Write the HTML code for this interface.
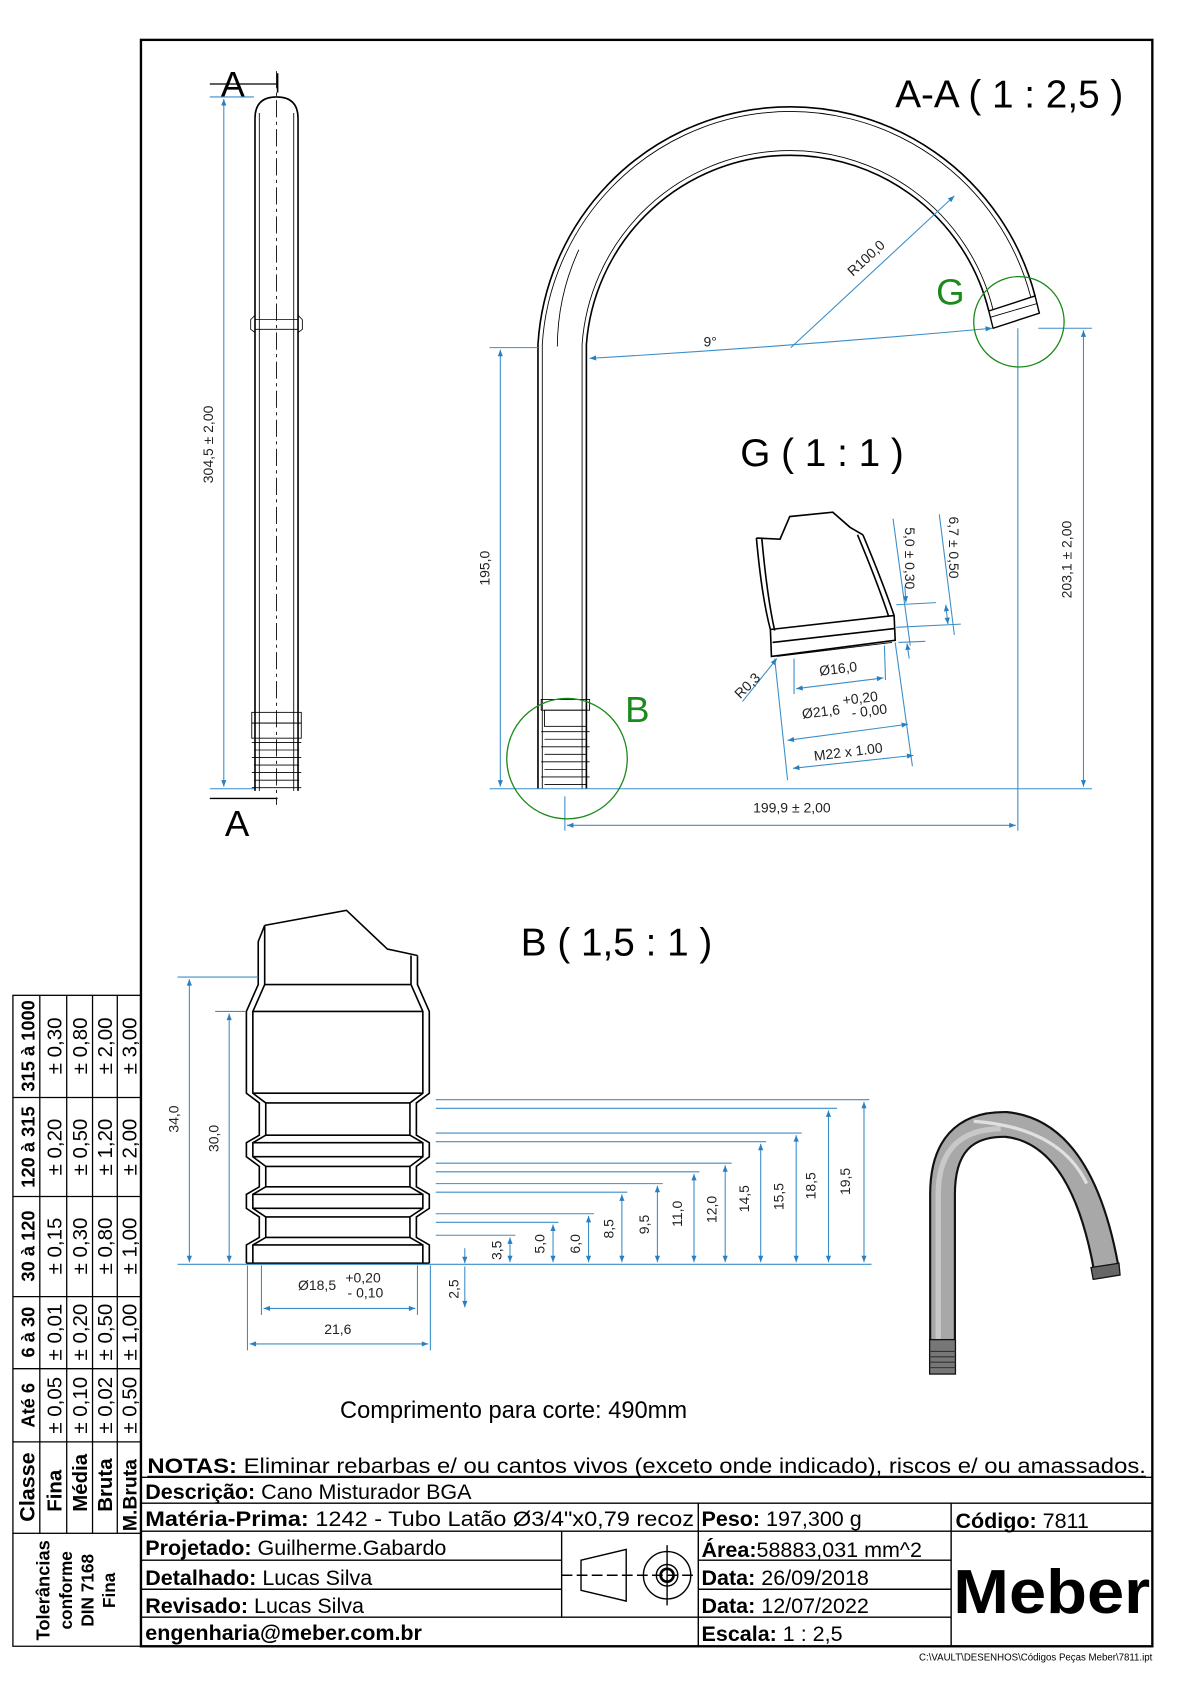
<!DOCTYPE html>
<html><head><meta charset="utf-8"><style>
html,body{margin:0;padding:0;background:#fff;}
svg{display:block;}
text{font-family:"Liberation Sans",sans-serif;}
.n{font-family:"Liberation Sans Narrow","Liberation Sans",sans-serif;}
.d{fill:#222;font-size:13px;}
.bl{stroke:#3a8ec8;stroke-width:1;fill:none;}
.k{stroke:#000;fill:none;stroke-width:1.5;}
.t{stroke:#000;fill:none;stroke-width:0.8;}
</style></head><body>
<svg width="1190" height="1684" viewBox="0 0 1106 1565" xmlns="http://www.w3.org/2000/svg">
<defs>
<marker id="ar" viewBox="0 0 10 10" refX="10" refY="5" markerWidth="9" markerHeight="6" orient="auto-start-reverse"><path d="M0,1 L10,5 L0,9 z" fill="#2a7fc0"/></marker>
</defs>
<rect x="131" y="37" width="940" height="1493" fill="none" stroke="#000" stroke-width="2.2"/>

<g stroke="#000" stroke-width="1.2" fill="none">
<rect x="12" y="925" width="119" height="500"/>
<line x1="37" y1="925" x2="37" y2="1425"/><line x1="62" y1="925" x2="62" y2="1425"/>
<line x1="86" y1="925" x2="86" y2="1425"/><line x1="109" y1="925" x2="109" y2="1425"/>
<line x1="12" y1="1020" x2="131" y2="1020"/><line x1="12" y1="1112" x2="131" y2="1112"/>
<line x1="12" y1="1205" x2="131" y2="1205"/><line x1="12" y1="1272" x2="131" y2="1272"/>
<line x1="12" y1="1340" x2="131" y2="1340"/>
<polyline points="12,1425 12,1530 131,1530"/>
</g>
<g font-size="19">
<g font-weight="bold" font-size="17">
<text transform="translate(32,972) rotate(-90)" text-anchor="middle">315 à 1000</text>
<text transform="translate(32,1066) rotate(-90)" text-anchor="middle">120 à 315</text>
<text transform="translate(32,1158) rotate(-90)" text-anchor="middle">30 à 120</text>
<text transform="translate(32,1238) rotate(-90)" text-anchor="middle">6 à 30</text>
<text transform="translate(32,1306) rotate(-90)" text-anchor="middle">Até 6</text>
<text transform="translate(32,1382) rotate(-90)" text-anchor="middle" font-size="20">Classe</text>
<text transform="translate(57,1405) rotate(-90)" font-size="19">Fina</text>
<text transform="translate(81,1405) rotate(-90)" font-size="19">Média</text>
<text transform="translate(104,1405) rotate(-90)" font-size="19">Bruta</text>
<text transform="translate(127,1423) rotate(-90)" font-size="18">M.Bruta</text>
</g>
<g text-anchor="middle">
<text transform="translate(57,972) rotate(-90)">± 0,30</text><text transform="translate(81,972) rotate(-90)">± 0,80</text><text transform="translate(104,972) rotate(-90)">± 2,00</text><text transform="translate(127,972) rotate(-90)">± 3,00</text>
<text transform="translate(57,1066) rotate(-90)">± 0,20</text><text transform="translate(81,1066) rotate(-90)">± 0,50</text><text transform="translate(104,1066) rotate(-90)">± 1,20</text><text transform="translate(127,1066) rotate(-90)">± 2,00</text>
<text transform="translate(57,1158) rotate(-90)">± 0,15</text><text transform="translate(81,1158) rotate(-90)">± 0,30</text><text transform="translate(104,1158) rotate(-90)">± 0,80</text><text transform="translate(127,1158) rotate(-90)">± 1,00</text>
<text transform="translate(57,1238) rotate(-90)">± 0,01</text><text transform="translate(81,1238) rotate(-90)">± 0,20</text><text transform="translate(104,1238) rotate(-90)">± 0,50</text><text transform="translate(127,1238) rotate(-90)">± 1,00</text>
<text transform="translate(57,1306) rotate(-90)">± 0,05</text><text transform="translate(81,1306) rotate(-90)">± 0,10</text><text transform="translate(104,1306) rotate(-90)">± 0,02</text><text transform="translate(127,1306) rotate(-90)">± 0,50</text>
</g>
<g font-weight="bold" font-size="16" text-anchor="middle">
<text transform="translate(46,1478) rotate(-90)" font-size="17">Tolerâncias</text>
<text transform="translate(67,1478) rotate(-90)">conforme</text>
<text transform="translate(87,1478) rotate(-90)">DIN 7168</text>
<text transform="translate(107,1478) rotate(-90)">Fina</text>
</g>
</g>

<g stroke="#000" stroke-width="1.3" fill="none">
<line x1="131" y1="1373" x2="1071" y2="1373"/>
<line x1="131" y1="1397" x2="1071" y2="1397"/>
<line x1="131" y1="1423" x2="1071" y2="1423"/>
<line x1="131" y1="1450" x2="522" y2="1450"/><line x1="649" y1="1450" x2="884" y2="1450"/>
<line x1="131" y1="1477" x2="522" y2="1477"/><line x1="649" y1="1477" x2="884" y2="1477"/>
<line x1="131" y1="1503" x2="884" y2="1503"/>
<line x1="649" y1="1397" x2="649" y2="1530"/>
<line x1="884" y1="1397" x2="884" y2="1530"/>
<line x1="522" y1="1423" x2="522" y2="1503"/>
</g>
<g class="n" font-size="20">
<text class="n" x="137" y="1369" textLength="928" lengthAdjust="spacingAndGlyphs"><tspan font-weight="bold">NOTAS:</tspan> Eliminar rebarbas e/ ou cantos vivos (exceto onde indicado), riscos e/ ou amassados.</text>
<line x1="137" y1="1372" x2="1065" y2="1372" stroke="#000" stroke-width="1"/>
<text class="n" x="135" y="1393"><tspan font-weight="bold">Descrição:</tspan> Cano Misturador BGA</text>
<text class="n" x="135" y="1418" textLength="510" lengthAdjust="spacingAndGlyphs"><tspan font-weight="bold">Matéria-Prima:</tspan> 1242 - Tubo Latão Ø3/4"x0,79 recoz</text>
<text class="n" x="652" y="1418"><tspan font-weight="bold">Peso:</tspan> 197,300 g</text>
<text class="n" x="888" y="1420"><tspan font-weight="bold">Código:</tspan> 7811</text>
<text class="n" x="135" y="1445"><tspan font-weight="bold">Projetado:</tspan> Guilherme.Gabardo</text>
<text class="n" x="135" y="1473"><tspan font-weight="bold">Detalhado:</tspan> Lucas Silva</text>
<text class="n" x="135" y="1499"><tspan font-weight="bold">Revisado:</tspan> Lucas Silva</text>
<text class="n" x="135" y="1524" font-weight="bold">engenharia@meber.com.br</text>
<text class="n" x="652" y="1447"><tspan font-weight="bold">Área:</tspan>58883,031 mm^2</text>
<text class="n" x="652" y="1473"><tspan font-weight="bold">Data:</tspan> 26/09/2018</text>
<text class="n" x="652" y="1499"><tspan font-weight="bold">Data:</tspan> 12/07/2022</text>
<text class="n" x="652" y="1525"><tspan font-weight="bold">Escala:</tspan> 1 : 2,5</text>
</g>
<text x="886" y="1499" font-size="58" font-weight="bold" textLength="183" lengthAdjust="spacingAndGlyphs">Meber</text>
<text x="1071" y="1543" font-size="9" text-anchor="end" class="n">C:\VAULT\DESENHOS\Códigos Peças Meber\7811.ipt</text>
<g stroke="#000" stroke-width="1.3" fill="none">
<polygon points="540,1450 582,1440 582,1488 540,1478"/>
<circle cx="620" cy="1464" r="22"/><circle cx="620" cy="1464" r="10"/><circle cx="620" cy="1464" r="6" stroke-width="2.5"/>
<line x1="522" y1="1464" x2="648" y2="1464" stroke-dasharray="10,4"/>
<line x1="620" y1="1436" x2="620" y2="1492"/>
</g>

<!-- LEFT TUBE VIEW -->
<text x="205" y="90" font-size="34">A</text>
<text x="209" y="777" font-size="34">A</text>
<line x1="195" y1="78" x2="258" y2="78" stroke="#000" stroke-width="1.2"/>
<line x1="258" y1="68" x2="258" y2="86" stroke="#000" stroke-width="1.5"/>
<line x1="195" y1="742" x2="258" y2="742" stroke="#000" stroke-width="1.2"/>
<g class="t">
<path d="M237,735 L237,110 Q237,90 257,90 Q277,90 277,110 L277,735" class="k" stroke-width="1.2"/>
<line x1="241" y1="105" x2="241" y2="735"/><line x1="273" y1="105" x2="273" y2="735"/>
<path d="M237,293 L233,297 L233,306 L237,309 M277,293 L281,297 L281,306 L277,309"/>
<line x1="237" y1="297" x2="277" y2="297"/><line x1="237" y1="306" x2="277" y2="306"/>
<rect x="234" y="662" width="46" height="10"/>
<rect x="234" y="672" width="46" height="14"/>
<path d="M234,690 h46 M236,697 h42 M234,704 h46 M236,711 h42 M234,718 h46 M236,725 h42 M234,732 h46"/>
</g>
<line x1="257" y1="66" x2="257" y2="748" stroke="#000" stroke-width="0.8" stroke-dasharray="16,4,3,4"/>
<line x1="195" y1="90" x2="236" y2="90" class="bl"/><line x1="195" y1="733" x2="236" y2="733" class="bl"/>
<line x1="208" y1="92" x2="208" y2="731" class="bl" marker-start="url(#ar)" marker-end="url(#ar)"/>
<text class="d" transform="translate(198,413) rotate(-90)" text-anchor="middle">304,5 ± 2,00</text>

<!-- A-A VIEW -->
<text x="832" y="100" font-size="36">A-A ( 1 : 2,5 )</text>
<g class="k" stroke-width="1.3">
<path d="M500,733 L500,320 A235,235 0 0 1 962,275"/>
<path d="M545,733 L545,320 A190,190 0 0 1 919,289"/>
</g>
<g class="t">
<path d="M504,733 L504,320 A231,231 0 0 1 958,276"/>
<path d="M541,733 L541,320 A194,194 0 0 1 923,288"/>
<path d="M518,322 A217,217 0 0 1 538,232"/>
<polygon points="919,289 962,275 966,291 923,305" stroke-width="1.3"/>
<line x1="920" y1="295" x2="964" y2="282"/>
<rect x="503" y="650" width="45" height="10"/>
<rect x="506" y="660" width="39" height="15"/>
<path d="M503,680 h45 M506,687 h39 M503,694 h45 M506,701 h39 M503,708 h45 M506,715 h39 M503,722 h45 M506,729 h39"/>
</g>
<line x1="455" y1="323" x2="500" y2="323" class="bl"/>
<line x1="455" y1="733" x2="1015" y2="733" class="bl"/>
<line x1="465" y1="325" x2="465" y2="731" class="bl" marker-start="url(#ar)" marker-end="url(#ar)"/>
<text class="d" transform="translate(455,528) rotate(-90)" text-anchor="middle">195,0</text>
<line x1="965" y1="305" x2="1015" y2="305" class="bl"/>
<line x1="1007" y1="307" x2="1007" y2="731" class="bl" marker-start="url(#ar)" marker-end="url(#ar)"/>
<text class="d" transform="translate(996,520) rotate(-90)" text-anchor="middle">203,1 ± 2,00</text>
<line x1="946" y1="305" x2="946" y2="772" class="bl"/>
<line x1="525" y1="740" x2="525" y2="772" class="bl"/>
<line x1="527" y1="767" x2="944" y2="767" class="bl" marker-start="url(#ar)" marker-end="url(#ar)"/>
<text class="d" x="736" y="755" text-anchor="middle">199,9 ± 2,00</text>
<path d="M548,333 Q735,322 922,305" class="bl" marker-start="url(#ar)" marker-end="url(#ar)"/>
<text class="d" x="660" y="322" text-anchor="middle">9°</text>
<line x1="735" y1="323" x2="887" y2="182" class="bl" marker-end="url(#ar)"/>
<text class="d" transform="translate(808,243) rotate(-43)" text-anchor="middle">R100,0</text>
<circle cx="947" cy="299" r="42" fill="none" stroke="#1a8a1a" stroke-width="1.2"/>
<text x="870" y="283" font-size="34" fill="#1a8a1a">G</text>
<circle cx="527" cy="705" r="56" fill="none" stroke="#1a8a1a" stroke-width="1.2"/>
<text x="581" y="671" font-size="34" fill="#1a8a1a">B</text>

<!-- G DETAIL -->
<text x="688" y="433" font-size="36">G ( 1 : 1 )</text>
<g class="k" stroke-width="1.2">
<polyline points="703,500 725,501 734,480 774,476 790,490 802,497"/>
<path d="M703,500 Q708,555 716,585 L717,610 L832,595 L831,572 Q820,540 802,497"/>
<path d="M708,500 Q713,555 720,586 M797,497 Q815,540 826,573"/>
<line x1="716" y1="585" x2="831" y2="572"/>
<line x1="718" y1="597" x2="832" y2="584"/>
<line x1="722" y1="610" x2="829" y2="597" stroke-width="0.8"/>
</g>
<g class="bl">
<line x1="830" y1="482" x2="846" y2="600"/>
<line x1="873" y1="478" x2="887" y2="590"/>
<line x1="833" y1="562" x2="870" y2="560"/>
<line x1="833" y1="583" x2="893" y2="580"/>
<line x1="835" y1="597" x2="860" y2="596"/>
<line x1="841" y1="545" x2="842" y2="560" marker-end="url(#ar)"/>
<line x1="845" y1="612" x2="843" y2="598" marker-end="url(#ar)"/>
<line x1="879" y1="562" x2="881" y2="580" marker-start="url(#ar)" marker-end="url(#ar)"/>
<line x1="738" y1="612" x2="738" y2="645"/><line x1="822" y1="600" x2="823" y2="632"/>
<line x1="740" y1="640" x2="821" y2="630" marker-start="url(#ar)" marker-end="url(#ar)"/>
<line x1="720" y1="612" x2="732" y2="725"/><line x1="832" y1="597" x2="848" y2="712"/>
<line x1="732" y1="688" x2="844" y2="673" marker-start="url(#ar)" marker-end="url(#ar)"/>
<line x1="737" y1="714" x2="849" y2="702" marker-start="url(#ar)" marker-end="url(#ar)"/>
<line x1="690" y1="652" x2="722" y2="612" marker-end="url(#ar)"/>
</g>
<text class="d" transform="translate(841,490) rotate(90)">5,0 ± 0,30</text>
<text class="d" transform="translate(882,480) rotate(90)">6,7 ± 0,50</text>
<text class="d" transform="translate(762,628) rotate(-7)">Ø16,0</text>
<text class="d" transform="translate(746,668) rotate(-7)">Ø21,6 <tspan dy="-8">+0,20</tspan></text>
<text class="d" transform="translate(792,667) rotate(-7)">- 0,00</text>
<text class="d" transform="translate(757,707) rotate(-7)">M22 x 1.00</text>
<text class="d" transform="translate(688,650) rotate(-45)">R0,3</text>

<!-- B DETAIL -->
<text x="484" y="888" font-size="36">B ( 1,5 : 1 )</text>
<g class="k" stroke-width="1.2">
<polyline points="246,860 322,846 360,882 388,888"/>
<path d="M240,875 L246,860 M240,875 L240,915 L229,940 L229,1016 L241,1025 L241,1055 L229,1062 L229,1075 L241,1084 L241,1103 L229,1110 L229,1123 L241,1131 L241,1150 L229,1157 L229,1174"/>
<path d="M246,860 L246,915 L235,940 L235,1016 L247,1025 L247,1055 L235,1062 L235,1075 L247,1084 L247,1103 L235,1110 L235,1123 L247,1131 L247,1150 L235,1157 L235,1174"/>
<path d="M388,888 L388,915 L399,940 L399,1016 L387,1025 L387,1055 L399,1062 L399,1075 L387,1084 L387,1103 L399,1110 L399,1123 L387,1131 L387,1150 L399,1157 L399,1174"/>
<path d="M382,888 L382,915 L393,940 L393,1016 L381,1025 L381,1055 L393,1062 L393,1075 L381,1084 L381,1103 L393,1110 L393,1123 L381,1131 L381,1150 L393,1157 L393,1174"/>
<line x1="246" y1="915" x2="382" y2="915"/><line x1="235" y1="940" x2="393" y2="940"/>
<line x1="235" y1="1016" x2="393" y2="1016"/><line x1="247" y1="1025" x2="381" y2="1025"/>
<line x1="247" y1="1055" x2="381" y2="1055"/><line x1="235" y1="1062" x2="393" y2="1062"/>
<line x1="235" y1="1075" x2="393" y2="1075"/><line x1="247" y1="1084" x2="381" y2="1084"/>
<line x1="247" y1="1103" x2="381" y2="1103"/><line x1="235" y1="1110" x2="393" y2="1110"/>
<line x1="235" y1="1123" x2="393" y2="1123"/><line x1="247" y1="1131" x2="381" y2="1131"/>
<line x1="247" y1="1150" x2="381" y2="1150"/><line x1="235" y1="1157" x2="393" y2="1157"/>
<line x1="229" y1="1174" x2="399" y2="1174"/>
</g>
<g class="bl">
<line x1="165" y1="908" x2="240" y2="908"/><line x1="200" y1="940" x2="228" y2="940"/>
<line x1="165" y1="1175" x2="810" y2="1175"/>
<line x1="176" y1="910" x2="176" y2="1173" marker-start="url(#ar)" marker-end="url(#ar)"/>
<line x1="213" y1="942" x2="213" y2="1173" marker-start="url(#ar)" marker-end="url(#ar)"/>
<line x1="405" y1="1022" x2="808" y2="1022"/><line x1="405" y1="1030" x2="778" y2="1030"/>
<line x1="405" y1="1053" x2="745" y2="1053"/><line x1="405" y1="1061" x2="712" y2="1061"/>
<line x1="405" y1="1081" x2="680" y2="1081"/><line x1="405" y1="1089" x2="650" y2="1089"/>
<line x1="405" y1="1100" x2="616" y2="1100"/><line x1="405" y1="1108" x2="583" y2="1108"/>
<line x1="405" y1="1128" x2="552" y2="1128"/><line x1="405" y1="1136" x2="519" y2="1136"/>
<line x1="405" y1="1148" x2="479" y2="1148"/>
<line x1="803" y1="1024" x2="803" y2="1173" marker-start="url(#ar)" marker-end="url(#ar)"/>
<line x1="770" y1="1032" x2="770" y2="1173" marker-start="url(#ar)" marker-end="url(#ar)"/>
<line x1="740" y1="1055" x2="740" y2="1173" marker-start="url(#ar)" marker-end="url(#ar)"/>
<line x1="707" y1="1063" x2="707" y2="1173" marker-start="url(#ar)" marker-end="url(#ar)"/>
<line x1="674" y1="1083" x2="674" y2="1173" marker-start="url(#ar)" marker-end="url(#ar)"/>
<line x1="645" y1="1091" x2="645" y2="1173" marker-start="url(#ar)" marker-end="url(#ar)"/>
<line x1="611" y1="1102" x2="611" y2="1173" marker-start="url(#ar)" marker-end="url(#ar)"/>
<line x1="578" y1="1110" x2="578" y2="1173" marker-start="url(#ar)" marker-end="url(#ar)"/>
<line x1="547" y1="1130" x2="547" y2="1173" marker-start="url(#ar)" marker-end="url(#ar)"/>
<line x1="514" y1="1138" x2="514" y2="1173" marker-start="url(#ar)" marker-end="url(#ar)"/>
<line x1="474" y1="1150" x2="474" y2="1173" marker-start="url(#ar)" marker-end="url(#ar)"/>
<line x1="243" y1="1176" x2="243" y2="1222"/><line x1="388" y1="1176" x2="388" y2="1222"/>
<line x1="245" y1="1216" x2="386" y2="1216" marker-start="url(#ar)" marker-end="url(#ar)"/>
<line x1="230" y1="1176" x2="230" y2="1255"/><line x1="400" y1="1176" x2="400" y2="1255"/>
<line x1="232" y1="1249" x2="398" y2="1249" marker-start="url(#ar)" marker-end="url(#ar)"/>
<line x1="432" y1="1177" x2="432" y2="1215" marker-end="url(#ar)"/>
<line x1="432" y1="1160" x2="432" y2="1174" marker-end="url(#ar)"/>
</g>
<g class="d">
<text transform="translate(166,1040) rotate(-90)" text-anchor="middle">34,0</text>
<text transform="translate(203,1058) rotate(-90)" text-anchor="middle">30,0</text>
<text transform="translate(466,1162) rotate(-90)" text-anchor="middle">3,5</text>
<text transform="translate(506,1156) rotate(-90)" text-anchor="middle">5,0</text>
<text transform="translate(539,1156) rotate(-90)" text-anchor="middle">6,0</text>
<text transform="translate(570,1142) rotate(-90)" text-anchor="middle">8,5</text>
<text transform="translate(603,1138) rotate(-90)" text-anchor="middle">9,5</text>
<text transform="translate(634,1128) rotate(-90)" text-anchor="middle">11,0</text>
<text transform="translate(666,1124) rotate(-90)" text-anchor="middle">12,0</text>
<text transform="translate(696,1114) rotate(-90)" text-anchor="middle">14,5</text>
<text transform="translate(728,1112) rotate(-90)" text-anchor="middle">15,5</text>
<text transform="translate(758,1102) rotate(-90)" text-anchor="middle">18,5</text>
<text transform="translate(790,1098) rotate(-90)" text-anchor="middle">19,5</text>
<text transform="translate(426,1198) rotate(-90)" text-anchor="middle">2,5</text>
<text x="277" y="1199">Ø18,5</text>
<text x="321" y="1192">+0,20</text>
<text x="323" y="1206">- 0,10</text>
<text x="314" y="1240" text-anchor="middle">21,6</text>
</g>
<text x="316" y="1318" font-size="22">Comprimento para corte: 490mm</text>

<g fill="none" stroke-linecap="butt">
<path d="M876,1250 L876,1110 Q876,1044 935,1045 Q1005,1052 1028,1178" stroke="#111" stroke-width="25"/>
<path d="M876,1250 L876,1110 Q876,1044 935,1045 Q1005,1052 1028,1178" stroke="#a8a8a8" stroke-width="21"/>
<path d="M872,1250 L872,1110 Q872,1050 930,1049" stroke="#c8c8c8" stroke-width="5"/>
<path d="M905,1042 Q985,1048 1010,1100" stroke="#e0e0e0" stroke-width="3"/>
</g>
<rect x="864" y="1245" width="24" height="32" fill="#777" stroke="#111" stroke-width="1.2"/>
<path d="M864,1256 h24 M864,1261 h24 M864,1266 h24 M864,1271 h24" stroke="#333" stroke-width="1"/>
<path d="M1014,1178 L1040,1174 L1041,1185 L1016,1189 z" fill="#666" stroke="#111" stroke-width="1.2"/>
</svg>
</body></html>
